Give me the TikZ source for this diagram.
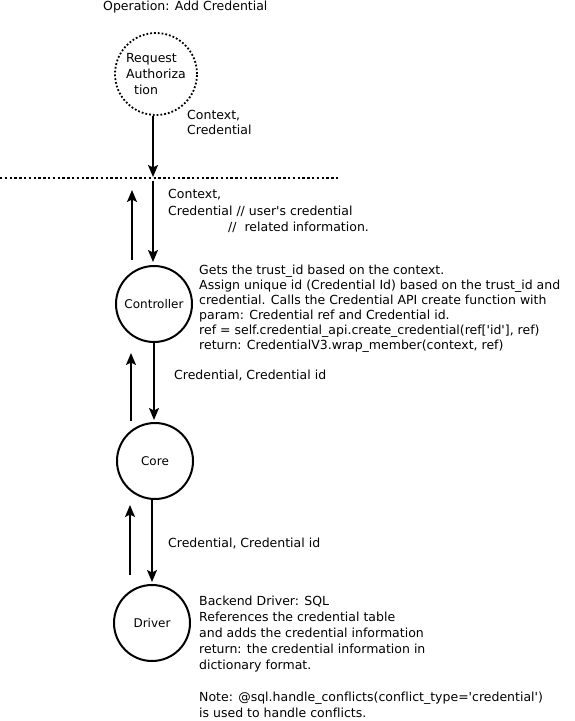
\documentclass[tikz,border=0pt]{standalone}
\usepackage{fontspec}
\setmainfont{DejaVu Sans}[Ligatures=NoCommon]
\usetikzlibrary{arrows.meta}
\newcommand{\sq}{\textquotesingle}
\begin{document}
\begin{tikzpicture}[x=1pt,y=-1pt,
  arr/.style={line width=2pt,-{Stealth[length=12pt,width=10pt,inset=2.5pt]}},
  circ/.style={circle,draw,line width=2pt,inner sep=0pt,minimum size=76pt,
    font=\fontsize{12}{15}\selectfont},
  dotcirc/.style={circle,draw,line width=1.8pt,dash pattern=on 1.8pt off 2pt,
    inner sep=0pt,minimum size=82pt,align=left,font=\fontsize{12.5}{16}\selectfont},
  dotline/.style={line width=2pt,dash pattern=on 2.4pt off 2.4pt},
  txt/.style={anchor=west,align=left,inner sep=0pt,font=\fontsize{12.5}{15}\selectfont},
  ]
\useasboundingbox[fill=white] (0,0) rectangle (574,721);

\node[txt] (title) at (103,7) {Operation: Add Credential};

\node[dotcirc] (req) at (156,74) {Request\\Authoriza\\\hspace*{8pt}tion};
\node[txt] (lbl1) at (187,122) {Context,\\Credential};

\coordinate (L) at (0,178);
\coordinate (R) at (338,178);
\draw[dotline] (L) -- (R);
\coordinate (hit) at (153,177);
\draw[arr] (req.south -| hit) -- (hit);

\node[circ] (ctrl) at (154,304) {Controller};
\node[circ] (core) at (155,461) {Core};
\node[circ] (drv) at (152,623) {Driver};

\coordinate (d1) at (153,181);
\draw[arr] (d1) -- ([yshift=3pt]ctrl.north -| d1);
\coordinate (u1a) at (132,260);
\coordinate (u1b) at (132,190);
\draw[arr] (u1a) -- (u1b);
\node[txt,font=\fontsize{12.5}{16.5}\selectfont] (lbl2) at (168,211)
  {Context,\\Credential // user\sq s credential\\\hspace*{60pt}//\ \ related information.};

\node[txt] (ctrltxt) at (199,309) {Gets the trust\_id based on the context.\\
Assign unique id (Credential Id) based on the trust\_id and\\
credential. Calls the Credential API create function with\\
param: Credential ref and Credential id.\\
ref = self.credential\_api.create\_credential(ref[\sq id\sq], ref)\\
return: CredentialV3.wrap\_member(context, ref)};

\draw[arr] (ctrl.south) -- ([yshift=2pt]core.north -| ctrl.south);
\coordinate (u2a) at (131,421);
\coordinate (u2b) at (131,353);
\draw[arr] (u2a) -- (u2b);
\node[txt] (lbl3) at (174,375) {Credential, Credential id};

\draw[arr] (core.south -| drv.north) -- ([yshift=2pt]drv.north);
\coordinate (u3a) at (130,575);
\coordinate (u3b) at (130,505);
\draw[arr] (u3a) -- (u3b);
\node[txt] (lbl4) at (168,543) {Credential, Credential id};

\node[txt,font=\fontsize{12.5}{16}\selectfont] (drvtxt) at (199,657) {Backend Driver: SQL\\
References the credential table\\
and adds the credential information\\
return: the credential information in\\
dictionary format.\\[16pt]
Note: @sql.handle\_conflicts(conflict\_type=\sq credential\sq)\\
is used to handle conflicts.};
\end{tikzpicture}
\end{document}
